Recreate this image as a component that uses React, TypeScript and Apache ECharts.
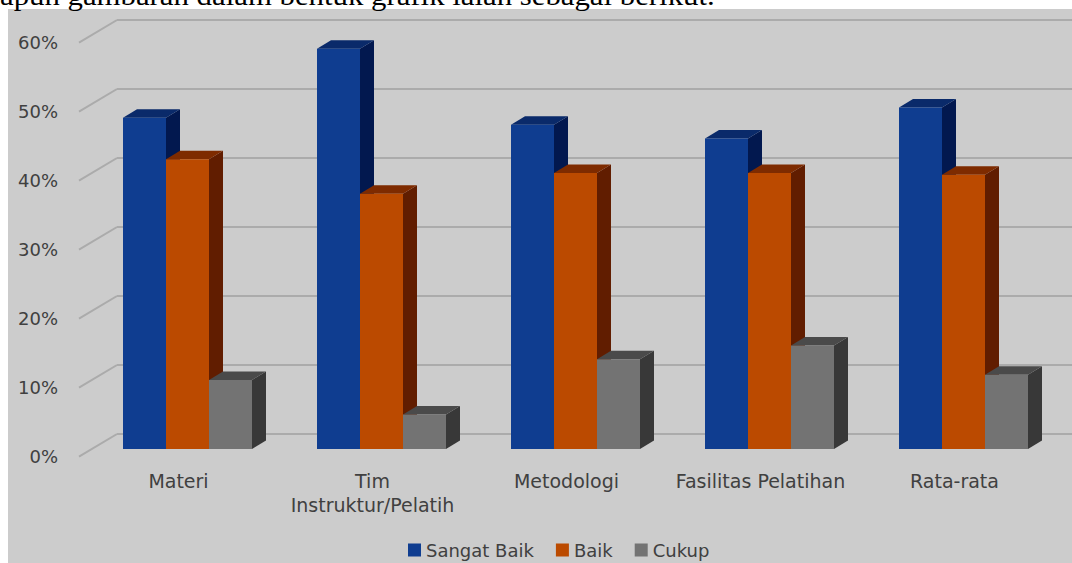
import React, { useEffect, useRef } from "react";
import * as echarts from "echarts";

const categories = ["Materi", "Tim\nInstruktur/Pelatih", "Metodologi", "Fasilitas Pelatihan", "Rata-rata"];
const seriesNames = ["Sangat Baik", "Baik", "Cukup"];
const sangatBaik = [48, 58, 47, 45, 49.5];
const baik = [42, 37, 40, 40, 39.75];
const cukup = [10, 5, 13, 15, 10.75];
const yTicks = [0, 10, 20, 30, 40, 50, 60];
const headerText = "apun gambaran dalam bentuk grafik ialah sebagai berikut.";

const palettes = [
  { front: "#0F3D90", top: "#0A2A6A", side: "#02184F" },
  { front: "#BB4A00", top: "#7E2B00", side: "#611D00" },
  { front: "#737373", top: "#4A4A4A", side: "#383838" },
];

const FONT = "DejaVu Sans";
const TEXT = "#404040";
const GRID_LINE = "#ABABAB";

export default function App() {
  const ref = useRef<HTMLDivElement>(null);
  useEffect(() => {
    if (!ref.current) return;
    const chart = echarts.init(ref.current, undefined, { renderer: "svg" });
    const values = [sangatBaik, baik, cukup];

    const barSeries = values.map((vals, k) => ({
      type: "custom",
      name: seriesNames[k],
      xAxisIndex: 0,
      yAxisIndex: 0,
      z: 3,
      itemStyle: { color: palettes[k].front },
      encode: { x: 0, y: 1 },
      data: vals.map((v, i) => [i, v]),
      renderItem: (params: any, api: any) => {
        const idx = api.value(0);
        const val = api.value(1);
        const base = api.coord([idx, 0]);
        const top = api.coord([idx, val]);
        const band = api.size([1, 0])[0];
        const w = (band * 43) / 194;
        const x0 = base[0] + (k - 1.5) * w;
        const x1 = x0 + w;
        const dx = 14;
        const dy = 8.5;
        const p = palettes[k];
        return {
          type: "group",
          children: [
            {
              type: "polygon",
              shape: { points: [[x1, top[1]], [x1 + dx, top[1] - dy], [x1 + dx, base[1] - dy], [x1, base[1]]] },
              style: { fill: p.side },
            },
            {
              type: "polygon",
              shape: { points: [[x0, top[1]], [x0 + dx, top[1] - dy], [x1 + dx, top[1] - dy], [x1, top[1]]] },
              style: { fill: p.top },
            },
            {
              type: "rect",
              shape: { x: x0, y: top[1], width: w, height: base[1] - top[1] },
              style: { fill: p.front },
            },
          ],
        };
      },
    }));

    const option: any = {
      animation: false,
      backgroundColor: "#ffffff",
      graphic: [
        {
          type: "rect",
          z: -10,
          shape: { x: 8, y: 9, width: 1064, height: 554 },
          style: { fill: "#CCCCCC" },
        },
        {
          type: "text",
          x: 0,
          y: -5,
          scaleX: 1.1,
          style: {
            text: headerText,
            font: "28px 'Liberation Serif'",
            fill: "#000000",
            verticalAlign: "middle",
            align: "left",
          },
        },
      ],
      legend: {
        data: seriesNames,
        left: 403,
        top: 536,
        icon: "rect",
        itemWidth: 13,
        itemHeight: 13,
        itemGap: 22,
        textStyle: { color: TEXT, fontSize: 18, fontFamily: FONT },
      },
      grid: [
        { left: 90.5, width: 970, top: 35, height: 414 },
        { left: 117, right: 0, top: 20, height: 414 },
        { left: 81.5, width: 970, top: 42.7, height: 414 },
      ],
      xAxis: [
        {
          type: "category",
          gridIndex: 0,
          data: categories,
          axisLine: { show: false },
          axisTick: { show: false },
          axisLabel: { show: false },
        },
        {
          type: "value",
          gridIndex: 1,
          min: 0,
          max: 1,
          show: false,
        },
        {
          type: "category",
          gridIndex: 2,
          data: categories,
          axisLine: { show: false },
          axisTick: { show: false },
          axisLabel: {
            color: TEXT,
            fontSize: 19,
            fontFamily: FONT,
            lineHeight: 24,
            margin: 12,
            interval: 0,
          },
        },
      ],
      yAxis: [
        { type: "value", gridIndex: 0, min: 0, max: 60, interval: 10, show: false },
        {
          type: "value",
          gridIndex: 1,
          min: 0,
          max: 60,
          interval: 10,
          axisLine: { show: false },
          axisTick: { show: false },
          axisLabel: { show: false },
          splitLine: { show: true, lineStyle: { color: GRID_LINE, width: 2 } },
        },
        {
          type: "value",
          gridIndex: 2,
          min: 0,
          max: 60,
          interval: 10,
          axisLine: { show: false },
          axisTick: { show: false },
          splitLine: { show: false },
          axisLabel: {
            formatter: "{value}%",
            color: TEXT,
            fontSize: 18,
            fontFamily: FONT,
            margin: 23.5,
          },
        },
      ],
      series: [
        {
          type: "custom",
          name: "diag",
          xAxisIndex: 1,
          yAxisIndex: 1,
          z: 1,
          silent: true,
          encode: { x: 0, y: 1 },
          data: yTicks.map((v) => [0, v]),
          renderItem: (params: any, api: any) => {
            const p = api.coord([0, api.value(1)]);
            return {
              type: "line",
              shape: { x1: p[0] - 38, y1: p[1] + 22.7, x2: p[0], y2: p[1] },
              style: { stroke: GRID_LINE, lineWidth: 2 },
            };
          },
        },
        ...barSeries,
      ],
    };
    chart.setOption(option);
    return () => chart.dispose();
  }, []);
  return (
    <div
      ref={ref}
      style={{ position: "fixed", left: 0, top: 0, width: 1072, height: 563 }}
    />
  );
}
